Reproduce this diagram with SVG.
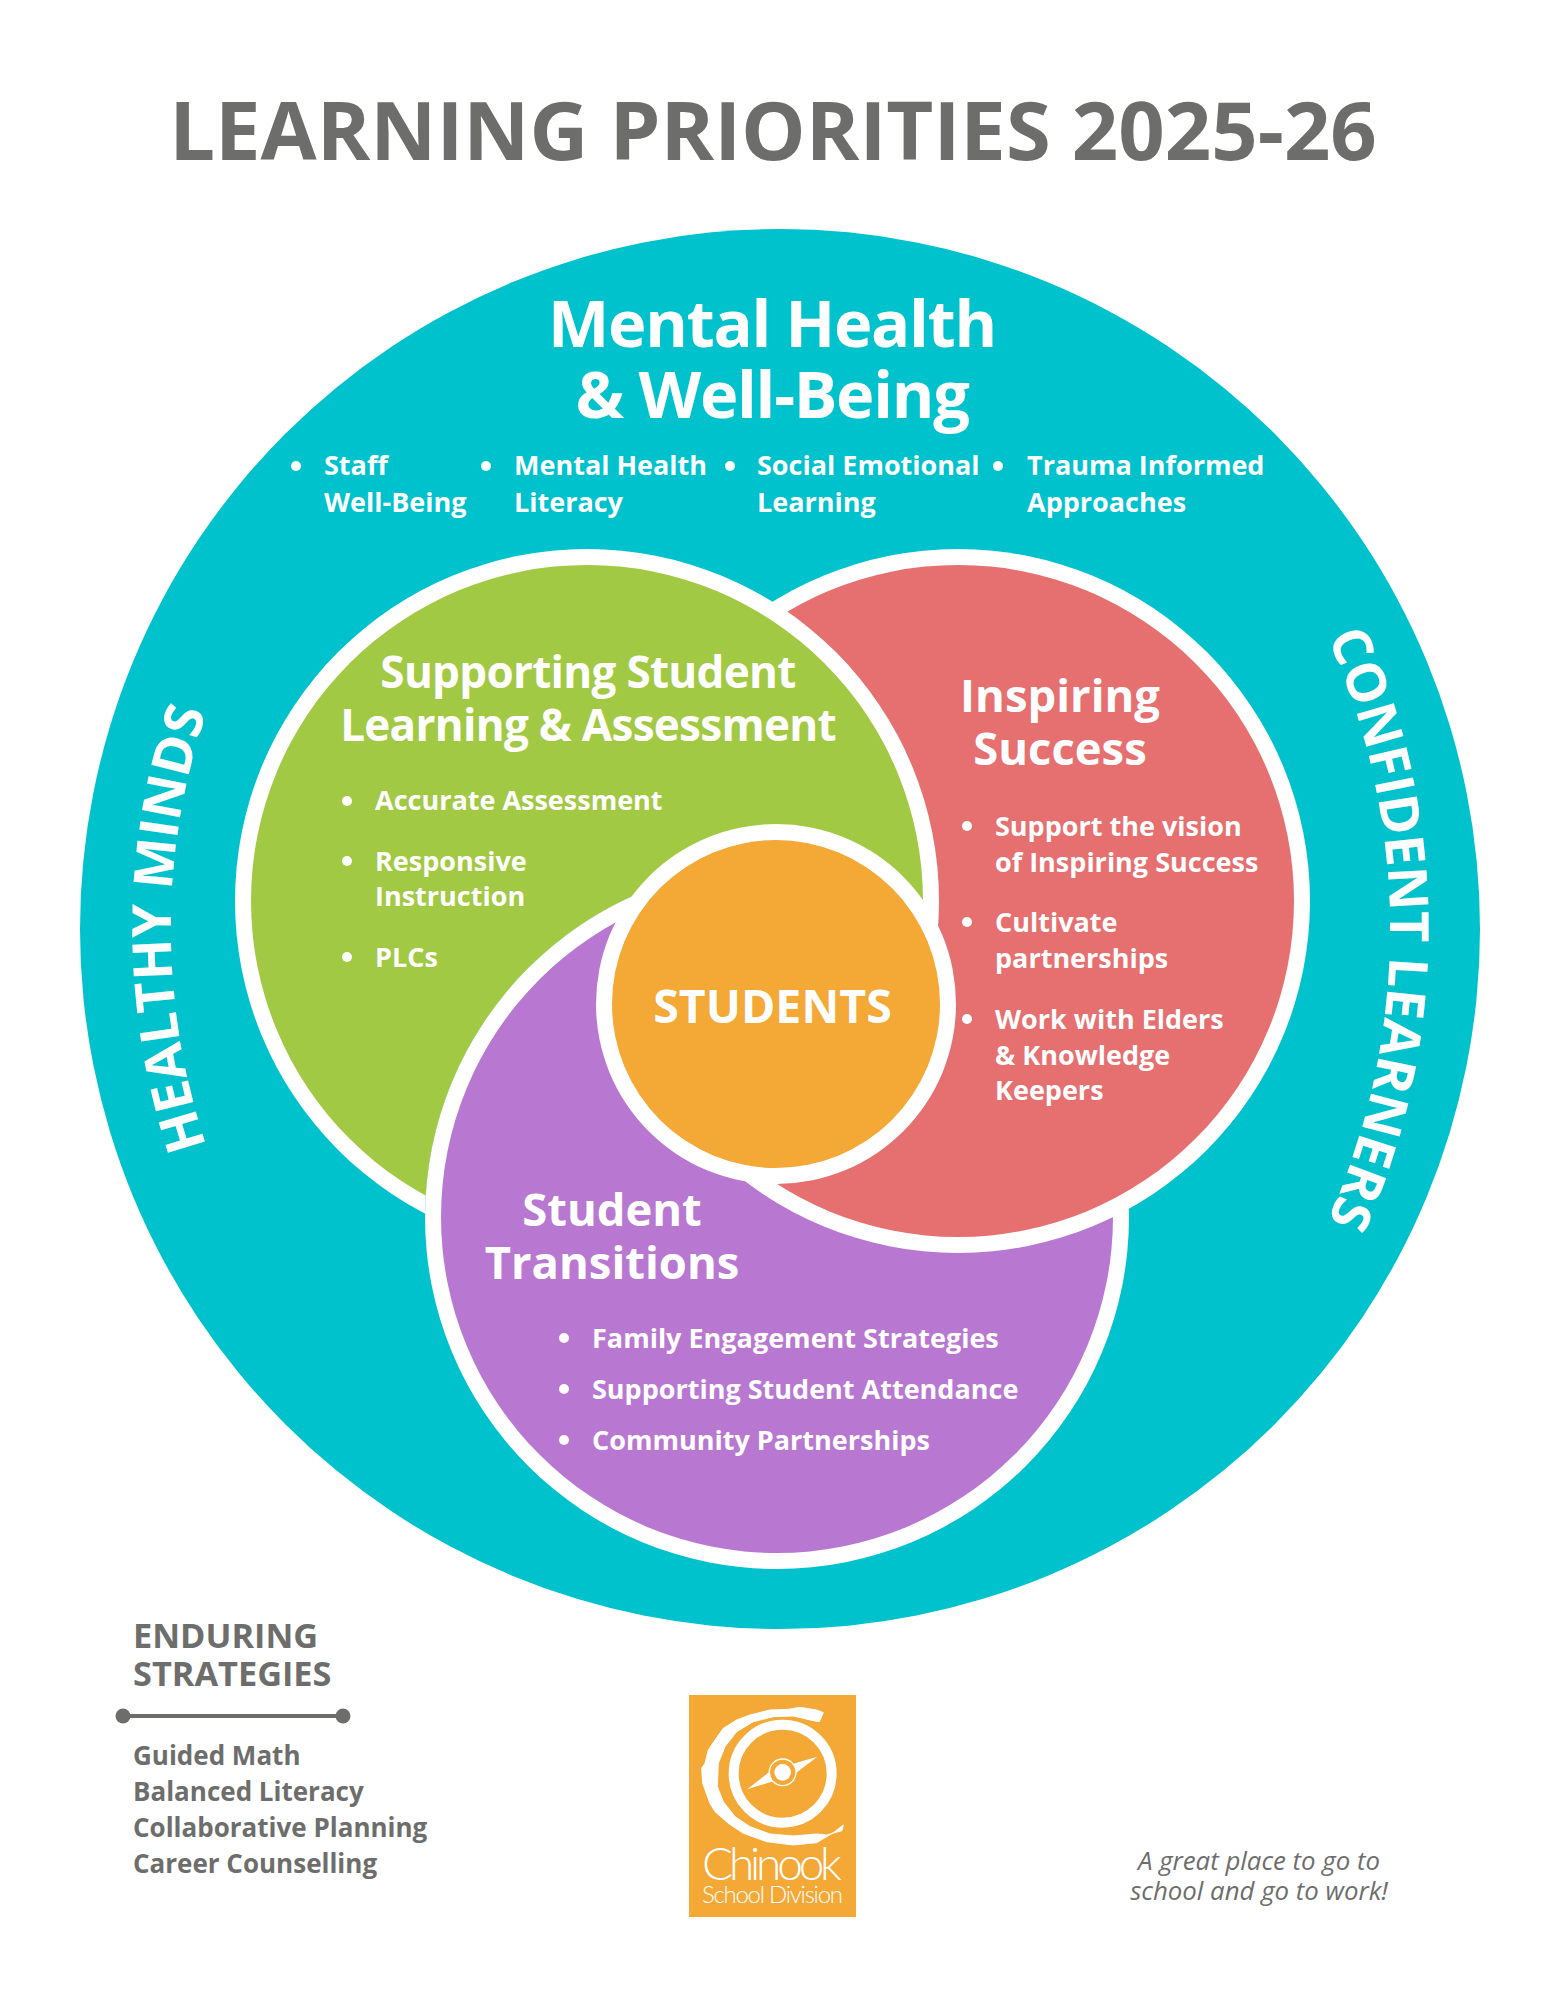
<svg xmlns="http://www.w3.org/2000/svg" width="1545" height="2000" viewBox="0 0 1545 2000">
<style>
text{font-family:"Open Sans","Noto Sans",sans-serif;font-weight:700;fill:#fff}
.h{font-size:45.4px;text-anchor:middle}
.ht{font-size:44px;text-anchor:middle;letter-spacing:-.7px}
.m{font-size:65px;text-anchor:middle;letter-spacing:-1.3px}
.b{font-size:27px}
.g{fill:#6d6e6c}
.l{font-size:26px}
.e{font-size:34.3px}
.c{font-size:54px;text-anchor:middle}
.r{fill:#fff}
.t{font-size:25.8px;text-anchor:middle;fill:#6d6e6c;font-weight:400;font-style:italic}
.lg{font-family:Lato,sans-serif;font-weight:300}
</style>
<defs>
<clipPath id="gc"><path d="M0 0H1545V2000H0Z M425 1217a352 352 0 1 0 704 0a352 352 0 1 0 -704 0Z M777 0H1545V1004H777Z"/></clipPath>
<clipPath id="rc"><rect x="634" y="0" width="911" height="2000"/></clipPath>
<path id="la" d="M851 1609A680 680 0 0 1 851 249"/>
<path id="ra" d="M678 217A712 712 0 0 1 678 1641"/>
</defs>
<rect width="1545" height="2000" fill="#fff"/>
<text id="title" class="g" x="773" y="160" font-size="81.3" text-anchor="middle">LEARNING PRIORITIES 2025-26</text>
<g id="outer">
<circle cx="780" cy="929" r="700" fill="#00c2cc"/>
<text class="m" x="772" y="347">Mental Health</text>
<text class="m" x="772" y="418">&amp; Well-Being</text>
<circle class="r" cx="296" cy="466" r="5"/><text class="b" x="324" y="475">Staff</text><text class="b" x="324" y="512">Well-Being</text>
<circle class="r" cx="486" cy="466" r="5"/><text class="b" x="514" y="475">Mental Health</text><text class="b" x="514" y="512">Literacy</text>
<circle class="r" cx="730" cy="466" r="5"/><text class="b" x="757" y="475">Social Emotional</text><text class="b" x="757" y="512">Learning</text>
<circle class="r" cx="998" cy="466" r="5"/><text class="b" x="1027" y="475">Trauma Informed</text><text class="b" x="1027" y="512">Approaches</text>
<text class="c"><textPath href="#la" startOffset="50%">HEALTHY MINDS</textPath></text>
<text class="c"><textPath href="#ra" startOffset="50%">CONFIDENT LEARNERS</textPath></text>
</g>
<g id="purple">
<circle cx="777" cy="1217" r="352" fill="#fff"/>
<circle cx="777" cy="1217" r="336" fill="#b878d2"/>
<text class="h" x="612" y="1226">Student</text>
<text class="h" x="612" y="1279">Transitions</text>
<circle class="r" cx="564" cy="1338" r="5"/><text class="b" x="592" y="1348">Family Engagement Strategies</text>
<circle class="r" cx="564" cy="1389" r="5"/><text class="b" x="592" y="1399">Supporting Student Attendance</text>
<circle class="r" cx="564" cy="1440" r="5"/><text class="b" x="592" y="1450">Community Partnerships</text>
</g>
<g id="red">
<g clip-path="url(#rc)">
<circle cx="958" cy="901" r="352" fill="#fff"/>
<circle cx="958" cy="901" r="336" fill="#e66f70"/>
</g>
<text class="h" x="1060" y="712">Inspiring</text>
<text class="h" x="1060" y="765">Success</text>
<circle class="r" cx="967" cy="826" r="5"/><text class="b" x="995" y="836">Support the vision</text><text class="b" x="995" y="872">of Inspiring Success</text>
<circle class="r" cx="967" cy="922" r="5"/><text class="b" x="995" y="932">Cultivate</text><text class="b" x="995" y="968">partnerships</text>
<circle class="r" cx="967" cy="1019" r="5"/><text class="b" x="995" y="1029">Work with Elders</text><text class="b" x="995" y="1065">&amp; Knowledge</text><text class="b" x="995" y="1100">Keepers</text>
</g>
<g id="green">
<g clip-path="url(#gc)">
<circle cx="587" cy="901" r="352" fill="#fff"/>
<circle cx="587" cy="901" r="336" fill="#a2c944"/>
</g>
<text class="ht" x="588" y="688">Supporting Student</text>
<text class="ht" x="588" y="741">Learning &amp; Assessment</text>
<circle class="r" cx="347" cy="801" r="5"/><text class="b" x="375" y="810">Accurate Assessment</text>
<circle class="r" cx="347" cy="861" r="5"/><text class="b" x="375" y="871">Responsive</text><text class="b" x="375" y="906">Instruction</text>
<circle class="r" cx="347" cy="957" r="5"/><text class="b" x="375" y="967">PLCs</text>
</g>
<g id="students">
<circle cx="776" cy="1004" r="180" fill="#fff"/>
<circle cx="776" cy="1004" r="164" fill="#f4a836"/>
<text x="772.5" y="1023" font-size="46.5" text-anchor="middle">STUDENTS</text>
</g>
<g id="enduring">
<text class="g e" x="133" y="1648">ENDURING</text>
<text class="g e" x="133" y="1686">STRATEGIES</text>
<line x1="123" y1="1716" x2="343" y2="1716" stroke="#6d6e6c" stroke-width="4"/>
<circle cx="123" cy="1716" r="7.5" fill="#6d6e6c"/><circle cx="343" cy="1716" r="7.5" fill="#6d6e6c"/>
<text class="g l" x="133" y="1765">Guided Math</text>
<text class="g l" x="133" y="1801">Balanced Literacy</text>
<text class="g l" x="133" y="1837">Collaborative Planning</text>
<text class="g l" x="133" y="1873">Career Counselling</text>
</g>
<g id="logo">
<rect x="689" y="1695" width="167" height="222" fill="#f4a836"/>
<g transform="translate(660 1660) scale(.3333)">
<path fill="#fff" stroke="#fff" stroke-width="3" stroke-linejoin="round" d="M490 158L470 150L420 142L385 148L330 150L270 165L230 180L190 205L165 240L145 270L135 310L125 325L128 370L150 430L165 455L205 490L250 520L320 545L400 555L470 548L520 518L550 495L546 512L500 525L470 522L400 528L330 522L270 500L225 470L190 425L172 380L175 310L195 260L230 215L280 185L340 170L400 168L460 182L478 185Z"/>
<circle cx="368" cy="341" r="147" fill="none" stroke="#fff" stroke-width="30"/>
<path fill="#fff" d="M472 290L400 345L262 388L335 330Z"/>
<circle cx="368" cy="337" r="40" fill="#f4a836" stroke="#fff" stroke-width="4"/>
<circle cx="368" cy="337" r="25" fill="#fff"/>
</g>
<text class="lg" x="702" y="1880" font-size="46" textLength="140">Chinook</text>
<text class="lg" x="702" y="1903" font-size="24" textLength="141">School Division</text>
</g>
<g id="tagline">
<text class="t" x="1259" y="1870">A great place to go to</text>
<text class="t" x="1259" y="1900">school and go to work!</text>
</g>
</svg>
